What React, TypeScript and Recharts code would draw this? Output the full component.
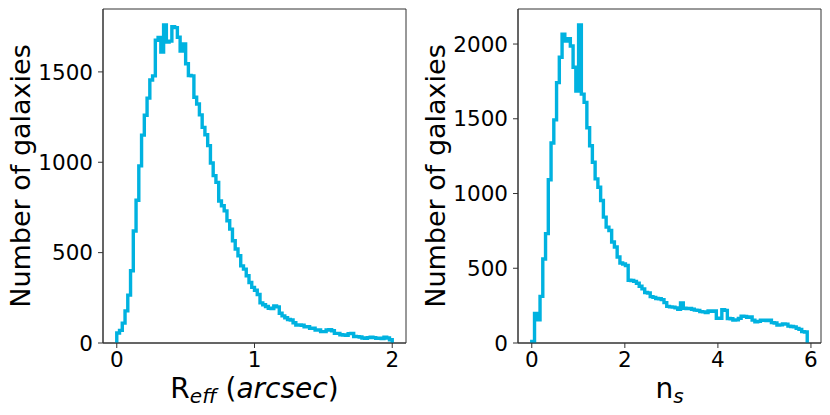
import { LineChart, Line, XAxis, YAxis, ReferenceArea } from 'recharts';

// histogram of effective radius, 100 bins between 0 and 2 arcsec
const R_EFF_BIN = 0.02;
const rEffCounts = [
  55, 70, 110, 178, 265, 400, 620, 790, 980, 1150,
  1260, 1355, 1455, 1478, 1675, 1690, 1610, 1760, 1665, 1670,
  1750, 1745, 1692, 1615, 1655, 1545, 1480, 1478, 1360, 1322,
  1262, 1193, 1152, 1092, 996, 926, 889, 786, 759, 731,
  676, 630, 566, 520, 483, 427, 409, 372, 335, 308,
  292, 268, 222, 212, 202, 192, 190, 205, 200, 165,
  150, 140, 130, 127, 112, 100, 100, 98, 90, 90,
  82, 82, 72, 72, 63, 63, 72, 74, 68, 53,
  53, 46, 44, 42, 52, 53, 36, 35, 33, 28,
  26, 30, 32, 30, 26, 27, 25, 32, 28, 18,
];
const rEffTicks = [0, 1, 2];
const rEffCountTicks = [0, 500, 1000, 1500];

// histogram of Sersic index, 100 bins between 0 and ~5.92
const N_S_BIN = 0.0592;
const nSCounts = [
  10, 198, 155, 312, 562, 732, 1092, 1338, 1493, 1742,
  1912, 2066, 2020, 2035, 1987, 1845, 1685, 2128, 1665, 1610,
  1440, 1320, 1209, 1098, 1042, 953, 842, 775, 753, 676,
  642, 575, 535, 528, 518, 420, 418, 412, 400, 380,
  362, 338, 334, 310, 305, 298, 296, 290, 270, 245,
  242, 240, 235, 226, 268, 232, 230, 231, 226, 220,
  218, 210, 208, 204, 214, 212, 214, 165, 166, 222,
  218, 164, 162, 153, 155, 165, 180, 178, 172, 174,
  153, 142, 145, 153, 152, 150, 152, 136, 134, 120,
  121, 127, 126, 113, 110, 108, 98, 91, 76, 74,
];
const nSTicks = [0, 2, 4, 6];
const nSCountTicks = [0, 500, 1000, 1500, 2000];

const FONT = '"DejaVu Sans", sans-serif';
const LINE = '#00B2E0';
const SPINE = '#333';
const W = 415;
const H = 415;
const Y_LABEL_SIZE = 27;
const X_LABEL_SIZE = 28;
const SUB_SIZE = 20;
const TICK_SIZE = 21.5;

// outline of a step histogram: up from 0 at the first edge, down to 0 at the last
function stepData(counts: number[], bin: number) {
  const pts = [{ x: 0, y: 0 }];
  counts.forEach((c, i) => pts.push({ x: i * bin, y: c }));
  pts.push({ x: counts.length * bin, y: 0 });
  return pts;
}

// matplotlib-like 5% margins
function pad(lo: number, hi: number): [number, number] {
  const m = (hi - lo) * 0.05;
  return [lo - m, hi + m];
}

const YLabel = ({ viewBox }: any) => {
  const cx = viewBox.x + 30;
  const cy = viewBox.y + viewBox.height / 2;
  return (
    <text
      x={cx}
      y={cy}
      transform={`rotate(-90, ${cx}, ${cy})`}
      textAnchor="middle"
      fontFamily={FONT}
      fontSize={Y_LABEL_SIZE}
      fill="#000"
    >
      Number of galaxies
    </text>
  );
};

const REffLabel = ({ viewBox }: any) => (
  <text
    x={viewBox.x + viewBox.width / 2}
    y={viewBox.y + 55}
    textAnchor="middle"
    fontFamily={FONT}
    fontSize={X_LABEL_SIZE}
    fill="#000"
  >
    R
    <tspan fontSize={SUB_SIZE} fontStyle="italic" dy={5}>eff</tspan>
    <tspan dy={-5}> (</tspan>
    <tspan fontStyle="italic">arcsec</tspan>
    <tspan>)</tspan>
  </text>
);

const NSLabel = ({ viewBox }: any) => (
  <text
    x={viewBox.x + viewBox.width / 2}
    y={viewBox.y + 55}
    textAnchor="middle"
    fontFamily={FONT}
    fontSize={X_LABEL_SIZE}
    fill="#000"
  >
    n
    <tspan fontSize={SUB_SIZE} fontStyle="italic" dy={5}>s</tspan>
  </text>
);

interface PanelProps {
  counts: number[];
  bin: number;
  xTicks: number[];
  yTicks: number[];
  xLabel: any;
}

function HistPanel({ counts, bin, xTicks, yTicks, xLabel }: PanelProps) {
  const data = stepData(counts, bin);
  const xDomain = pad(0, counts.length * bin);
  const yDomain: [number, number] = [0, Math.max(...counts) * 1.05];
  const tick = { fontFamily: FONT, fontSize: TICK_SIZE, fill: '#000' };
  const axisLine = { stroke: SPINE, strokeWidth: 1 };

  return (
    <LineChart width={W} height={H} data={data} margin={{ top: 9, right: 9, bottom: 0, left: 0 }}>
      <XAxis
        dataKey="x"
        type="number"
        domain={xDomain}
        ticks={xTicks}
        interval={0}
        height={72}
        tick={tick}
        tickSize={5}
        tickMargin={4}
        axisLine={axisLine}
        tickLine={axisLine}
        label={{ content: xLabel }}
      />
      <YAxis
        type="number"
        domain={yDomain}
        ticks={yTicks}
        interval={0}
        width={103}
        tick={tick}
        tickSize={5}
        tickMargin={5}
        axisLine={axisLine}
        tickLine={axisLine}
        label={{ content: YLabel }}
      />
      {/* box round the axes */}
      <ReferenceArea
        x1={xDomain[0]}
        x2={xDomain[1]}
        y1={yDomain[0]}
        y2={yDomain[1]}
        fill="none"
        stroke={SPINE}
        strokeWidth={1}
        ifOverflow="visible"
      />
      <Line
        type="stepAfter"
        dataKey="y"
        stroke={LINE}
        strokeWidth={3.4}
        strokeLinejoin="miter"
        dot={false}
        activeDot={false}
        isAnimationActive={false}
      />
    </LineChart>
  );
}

export default function App() {
  return (
    <div style={{ position: 'absolute', left: 0, top: 0, width: 830, height: 415, background: '#fff', display: 'flex' }}>
      <HistPanel counts={rEffCounts} bin={R_EFF_BIN} xTicks={rEffTicks} yTicks={rEffCountTicks} xLabel={REffLabel} />
      <HistPanel counts={nSCounts} bin={N_S_BIN} xTicks={nSTicks} yTicks={nSCountTicks} xLabel={NSLabel} />
    </div>
  );
}
